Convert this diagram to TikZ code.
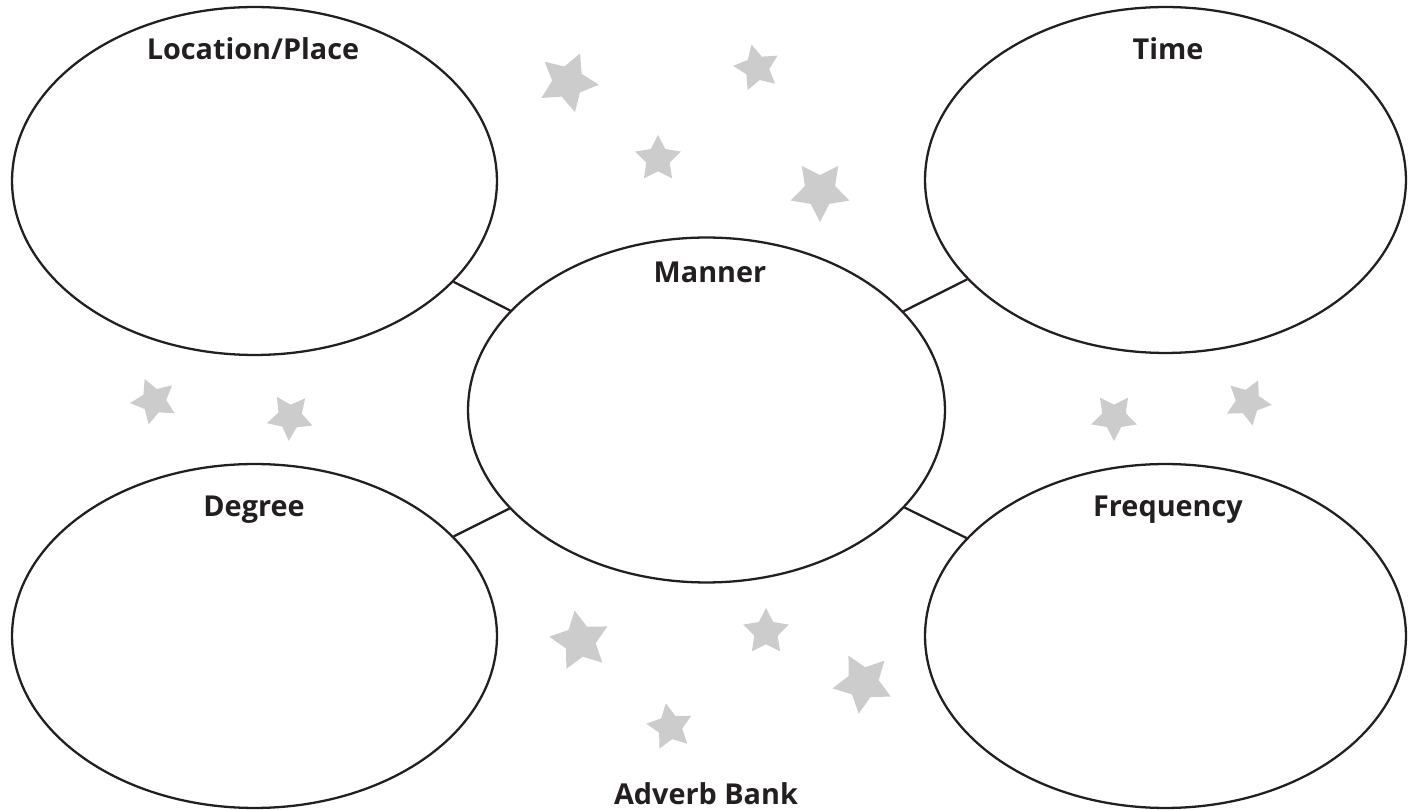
\documentclass[tikz,border=0pt]{standalone}
\usepackage{fontspec}
\setmainfont{Open Sans}
\usepackage{xcolor}
\usepackage{tikz}
\usetikzlibrary{shapes.geometric}
\definecolor{inkdark}{RGB}{35,31,32}
\definecolor{stargray}{RGB}{204,204,204}
\tikzstyle{bubble} = [ellipse, draw=inkdark, line width=1.3pt, inner sep=0pt]
\tikzstyle{head} = [text=inkdark, font=\fontsize{16.4}{19}\selectfont\bfseries, anchor=base, inner sep=0pt]
\tikzstyle{link} = [draw=inkdark, line width=1.3pt]
\tikzstyle{bigstar} = [star, star points=5, star point ratio=1.95, fill=stargray, inner sep=0pt, minimum size=1.24cm]
\tikzstyle{smallstar} = [star, star points=5, star point ratio=1.95, fill=stargray, inner sep=0pt, minimum size=0.96cm]

\begin{document}
\begin{tikzpicture}[x=0.02cm, y=-0.02cm]
    \useasboundingbox (0,0) rectangle (1418,810);

    % the five bubbles
    \node[bubble, minimum width=9.7cm, minimum height=6.96cm] (place) at (254.5,181) {};
    \node[bubble, minimum width=9.62cm, minimum height=6.92cm] (time) at (1165.5,180) {};
    \node[bubble, minimum width=9.54cm, minimum height=6.9cm] (manner) at (706.5,410) {};
    \node[bubble, minimum width=9.7cm, minimum height=6.88cm] (degree) at (254.5,636) {};
    \node[bubble, minimum width=9.62cm, minimum height=6.88cm] (freq) at (1165.5,636) {};

    \draw[link] (place) -- (manner);
    \draw[link] (time) -- (manner);
    \draw[link] (degree) -- (manner);
    \draw[link] (freq) -- (manner);

    % headings
    \node[head] (placetext) at (253,60) {Location/Place};
    \node[head] (timetext) at (1168,60) {Time};
    \node[head] (mannertext) at (710,283) {Manner};
    \node[head] (degreetext) at (254,517) {Degree};
    \node[head] (freqtext) at (1168,517) {Frequency};
    \node[head] (bank) at (706,805) {Adverb Bank};

    % stars
    \node[bigstar, rotate=-23] (s1) at (568,82) {};
    \node[smallstar, rotate=13] (s2) at (757,68) {};
    \node[smallstar] (s3) at (658,159) {};
    \node[bigstar, rotate=36] (s4) at (820,191) {};
    \node[smallstar, rotate=23] (s5) at (154,401) {};
    \node[smallstar, rotate=33] (s6) at (290,417) {};
    \node[smallstar, rotate=36] (s7) at (1114,417) {};
    \node[smallstar, rotate=-25] (s8) at (1248,402) {};
    \node[bigstar, rotate=10] (s9) at (580,641) {};
    \node[smallstar] (s10) at (766,632) {};
    \node[bigstar, rotate=28] (s11) at (863,683) {};
    \node[smallstar, rotate=10] (s12) at (670,727) {};
\end{tikzpicture}
\end{document}
